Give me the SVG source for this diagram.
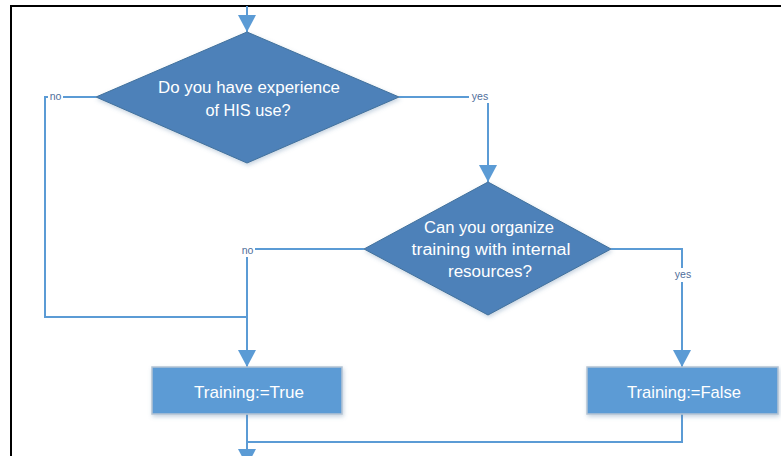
<svg xmlns="http://www.w3.org/2000/svg" width="781" height="456" viewBox="0 0 781 456">
<defs>
<marker id="ah" markerWidth="18" markerHeight="18" viewBox="0 0 18 18" refX="17" refY="9" orient="auto" markerUnits="userSpaceOnUse">
<path d="M0,0 L17,9 L0,18 Z" fill="#5B9BD5"/>
</marker>
<filter id="sh" x="-10%" y="-10%" width="130%" height="130%">
<feDropShadow dx="1" dy="2" stdDeviation="2" flood-color="#5b7fa6" flood-opacity="0.35"/>
</filter>
<style>
.frame{fill:none;stroke:#000;stroke-width:2}
.conn{fill:none;stroke:#5B9BD5;stroke-width:2}
.dia{fill:#4E81B9;stroke:#41719C;stroke-width:1}
.box{fill:#5B9BD5;stroke:#B4C3D3;stroke-width:1.5}
.t{font-family:"Liberation Sans",Arial,sans-serif;fill:#fff;text-anchor:middle}
.lbl{font-family:"Liberation Sans",Arial,sans-serif;font-size:10.5px;fill:#4F6E9A;text-anchor:middle}
.lb{fill:#fff}
</style>
</defs>
<rect width="781" height="456" fill="#fff"/>
<path class="frame" d="M11,456 L11,6 L781,6"/>
<g id="connectors">
<path class="conn" d="M247,6 L247,32" marker-end="url(#ah)"/>
<path class="conn" d="M96,97 L45,97 L45,317 L247,317"/>
<path class="conn" d="M399,97 L488,97 L488,182" marker-end="url(#ah)"/>
<path class="conn" d="M364,249 L247,249 L247,367" marker-end="url(#ah)"/>
<path class="conn" d="M611,249 L682,249 L682,367" marker-end="url(#ah)"/>
<path class="conn" d="M682,414 L682,442 L247,442"/>
<path class="conn" d="M247,414 L247,466" marker-end="url(#ah)"/>
<rect class="lb" x="48" y="91" width="15" height="11"/>
<text class="lbl" x="55.5" y="100">no</text>
<rect class="lb" x="469" y="90" width="22" height="13"/>
<text class="lbl" x="480" y="100">yes</text>
<rect class="lb" x="240" y="243" width="15" height="14"/>
<text class="lbl" x="247.5" y="254">no</text>
<rect class="lb" x="672" y="268" width="22" height="14"/>
<text class="lbl" x="683" y="278">yes</text>
</g>
<g id="q1">
<path class="dia" filter="url(#sh)" d="M247,32 L399,97 L247,163 L96,97 Z"/>
<text class="t" font-size="16" x="249" y="93" textLength="182" lengthAdjust="spacingAndGlyphs">Do you have experience</text>
<text class="t" font-size="16" x="248" y="116" textLength="85" lengthAdjust="spacingAndGlyphs">of HIS use?</text>
</g>
<g id="q2">
<path class="dia" filter="url(#sh)" d="M488,182 L611,249 L488,315 L364,249 Z"/>
<text class="t" font-size="16" x="489" y="233" textLength="130" lengthAdjust="spacingAndGlyphs">Can you organize</text>
<text class="t" font-size="16" x="491" y="255" textLength="159" lengthAdjust="spacingAndGlyphs">training with internal</text>
<text class="t" font-size="16" x="490" y="277" textLength="84" lengthAdjust="spacingAndGlyphs">resources?</text>
</g>
<g id="b1">
<rect class="box" filter="url(#sh)" x="152" y="367" width="190" height="47"/>
<text class="t" font-size="17" x="249" y="398" textLength="110" lengthAdjust="spacingAndGlyphs">Training:=True</text>
</g>
<g id="b2">
<rect class="box" filter="url(#sh)" x="587" y="367" width="191" height="47"/>
<text class="t" font-size="17" x="684" y="398" textLength="114" lengthAdjust="spacingAndGlyphs">Training:=False</text>
</g>
</svg>
